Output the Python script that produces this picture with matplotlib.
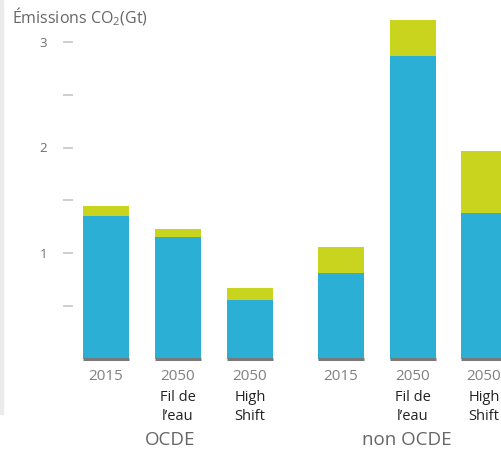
import matplotlib
matplotlib.use("Agg")
import matplotlib.pyplot as plt
from matplotlib.patches import Rectangle

plt.rcParams['font.family'] = ['Open Sans', 'DejaVu Sans']
plt.rcParams['mathtext.default'] = 'regular'

# data (Gt CO2)
years = ["2015", "2050", "2050", "2015", "2050", "2050"]
scenarios = ["", "Fil de\nl\u2019eau", "High\nShift", "", "Fil de\nl\u2019eau", "High\nShift"]
groups = ["OCDE", "non OCDE"]
blue_vals = [1.35, 1.15, 0.555, 0.81, 2.87, 1.38]
green_vals = [0.095, 0.08, 0.113, 0.25, 0.34, 0.59]

BLUE = "#2bafd5"
GREEN = "#c9d41f"

positions = [0, 1, 2, 3.26, 4.26, 5.25]
width = 0.64

fig = plt.figure(figsize=(5.02, 4.50), dpi=100)
ax = fig.add_axes([73 / 502, (450 - 358.5) / 450, 1 - 73 / 502, 348.15 / 450])

ax.bar(positions, blue_vals, width, color=BLUE, zorder=2)
ax.bar(positions, green_vals, width, bottom=blue_vals, color=GREEN, zorder=2)
for p in positions:
    ax.plot([p - width / 2, p + width / 2], [-0.005, -0.005], color="#7a7a7a", lw=2.2,
            solid_capstyle="butt", zorder=3, clip_on=False)

ax.set_xlim(-0.458, 5.5)
ax.set_ylim(0, 3.3)
for s in ax.spines.values():
    s.set_visible(False)

ax.set_yticks([0.5, 1, 1.5, 2, 2.5, 3])
ax.set_yticklabels(["", "1", "", "2", "", "3"])
ax.tick_params(axis="y", direction="out", length=7.5, width=1.3, color="#cccccc",
               labelcolor="#6e6e6e", labelsize=9.5, pad=11)
ax.set_xticks([])

# x labels
xt = ax.get_xaxis_transform()
for p, yr, sc in zip(positions, years, scenarios):
    ax.text(p, -0.053, yr, transform=xt, ha="center", va="center",
            fontsize=11, color="#808080")
    for i, line in enumerate(sc.split("\n") if sc else []):
        ax.text(p, -0.111 - 0.057 * i, line, transform=xt,
                ha="center", va="center", fontsize=10.5, color="#222222")

ax.text(0.89, -0.234, groups[0], transform=xt, ha="center",
        va="center", fontsize=13.5, color="#666666", fontweight="medium")
ax.text(4.18, -0.234, groups[1], transform=xt, ha="center",
        va="center", fontsize=13.5, color="#666666", fontweight="medium")

fig.text(12 / 502, 1 - 17 / 450, "\u00c9missions CO$_2$(Gt)", ha="left", va="center",
         fontsize=11.5, color="#666666")

fig.patches.append(Rectangle((0, 36 / 450), 3 / 502, 1 - 36 / 450,
                             transform=fig.transFigure, color="#ebebeb", zorder=0))

fig.savefig("out.png", dpi=100)
